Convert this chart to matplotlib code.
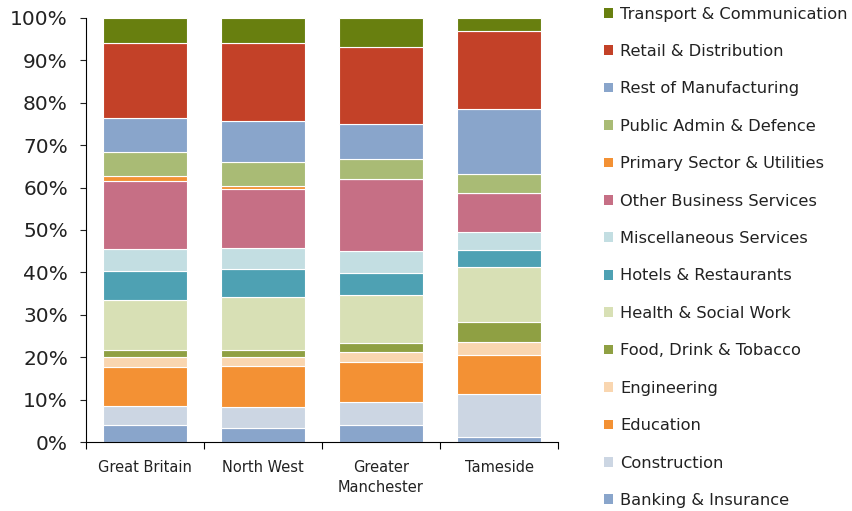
import numpy as np
import matplotlib.pyplot as plt
from matplotlib.patches import Patch
from matplotlib.ticker import PercentFormatter

plt.rcParams['font.family'] = ['DejaVu Sans']

# Areas along the x axis
areas = ["Great Britain", "North West", "Greater\nManchester", "Tameside"]

# Share of employment by sector (%), stacked bottom to top
banking = [3.9, 3.2, 3.9, 1.1]
construction = [4.7, 5.1, 5.5, 10.2]
education = [9.1, 9.6, 9.5, 9.2]
engineering = [2.4, 2.1, 2.3, 3.1]
food_drink = [1.6, 1.8, 2.2, 4.8]
health = [11.7, 12.3, 11.2, 12.8]
hotels = [6.9, 6.8, 5.3, 4.0]
misc_services = [5.1, 4.8, 5.1, 4.4]
other_business = [16.2, 13.9, 17.0, 9.1]
primary = [1.1, 0.7, 0.0, 0.0]
public_admin = [5.6, 5.7, 4.8, 4.6]
rest_manuf = [8.0, 9.8, 8.2, 15.1]
retail = [17.8, 18.2, 18.2, 18.4]
transport = [5.9, 6.0, 6.8, 3.2]

sectors = [
    ("Banking & Insurance", banking, "#89a5cb"),
    ("Construction", construction, "#ccd6e3"),
    ("Education", education, "#f39134"),
    ("Engineering", engineering, "#f9d6b0"),
    ("Food, Drink & Tobacco", food_drink, "#8fa043"),
    ("Health & Social Work", health, "#d8e0b5"),
    ("Hotels & Restaurants", hotels, "#4ea1b3"),
    ("Miscellaneous Services", misc_services, "#c3dee2"),
    ("Other Business Services", other_business, "#c66f85"),
    ("Primary Sector & Utilities", primary, "#f39134"),
    ("Public Admin & Defence", public_admin, "#a9bb75"),
    ("Rest of Manufacturing", rest_manuf, "#89a5cb"),
    ("Retail & Distribution", retail, "#c34128"),
    ("Transport & Communication", transport, "#687f0f"),
]

fig = plt.figure(figsize=(8.52, 5.11), dpi=100)
ax = fig.add_axes([0.101, 0.135, 0.554, 0.830])

x = np.arange(len(areas))
bottom = np.zeros(len(areas))
for name, vals, color in sectors:
    vals = np.array(vals)
    ax.bar(x, vals, 0.71, bottom=bottom, color=color, edgecolor="white",
           linewidth=0.8, label=name)
    bottom += vals

ax.set_xlim(-0.5, 3.5)
ax.set_ylim(0, 100)
ax.set_yticks(np.arange(0, 101, 10))
ax.yaxis.set_major_formatter(PercentFormatter(decimals=0))
ax.tick_params(axis="y", labelsize=14.5, length=4, width=0.8, pad=9, colors="#222222")
ax.set_xticks(x)
ax.set_xticklabels(areas, fontsize=10.5, color="#222222", linespacing=1.4)
ax.set_xticks(np.arange(-0.5, 4, 1), minor=True)
ax.tick_params(axis="x", which="major", length=0, pad=13)
ax.tick_params(axis="x", which="minor", length=5, width=0.8)
for side in ["top", "right"]:
    ax.spines[side].set_visible(False)
for side in ["left", "bottom"]:
    ax.spines[side].set_linewidth(0.8)

handles = [Patch(facecolor=c, label=n) for n, _, c in sectors][::-1]
fig.legend(handles=handles, loc="upper left", bbox_to_anchor=(0.7015, 1.0),
           frameon=False, fontsize=11.7, handlelength=0.55, handleheight=0.55,
           handletextpad=0.42, labelspacing=1.38, borderaxespad=0,
           labelcolor="#222222")

fig.savefig("out.png", dpi=100)
